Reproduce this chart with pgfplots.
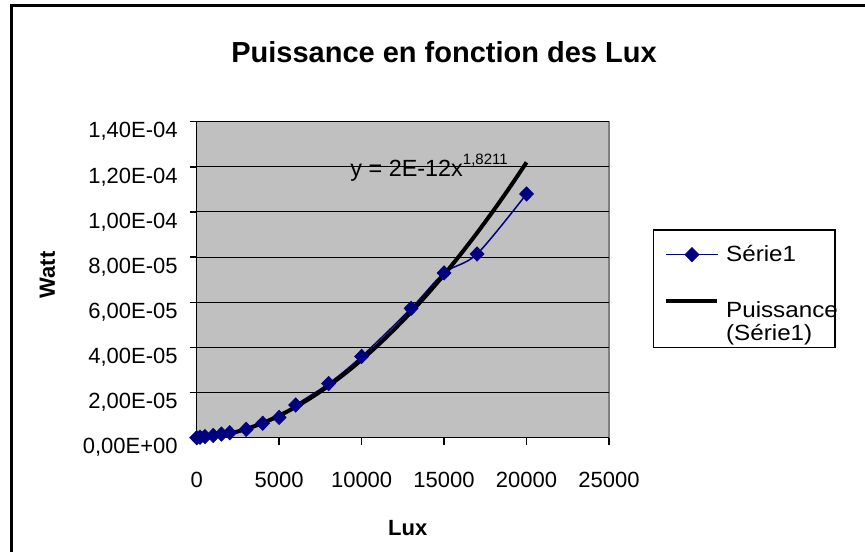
\documentclass[border=0pt]{standalone}
\usepackage{pgfplots}
\pgfplotsset{compat=1.18}
\usepackage{fontspec}
\setmainfont{Liberation Sans}
\definecolor{navy}{RGB}{0,0,128}
\definecolor{plotgray}{RGB}{192,192,192}
\definecolor{framegray}{RGB}{128,128,128}
\newcommand{\fs}{\fontsize{11}{13}\selectfont}
\newcommand{\lx}[1]{\scalebox{1.1}[1]{#1}}
\begin{document}
\begin{tikzpicture}
\useasboundingbox (0,0) rectangle (432.5pt,276pt);
\draw[line width=1.5pt] (5.75pt,0pt) -- (5.75pt,273.25pt) -- (440pt,273.25pt);
\begin{axis}[
  at={(98.35pt,57.15pt)}, anchor=south west,
  scale only axis, width=206.15pt, height=158pt,
  xmin=0, xmax=25000, ymin=0, ymax=1.4e-4,
  clip=false,
  axis background/.style={fill=plotgray, draw=framegray, line width=0.75pt},
  axis x line*=bottom, axis y line*=left,
  axis line style={-, black, line width=0.75pt},
  xtick={0,5000,10000,15000,20000,25000},
  xticklabels={0,5000,10000,15000,20000,25000},
  ytick={0,2e-5,4e-5,6e-5,8e-5,1e-4,1.2e-4,1.4e-4},
  yticklabels={{0,00E+00},{2,00E-05},{4,00E-05},{6,00E-05},{8,00E-05},{1,00E-04},{1,20E-04},{1,40E-04}},
  scaled x ticks=false, scaled y ticks=false,
  tick align=outside, major tick length=3.5pt,
  tick style={black, line width=0.75pt},
  ymajorgrids, grid style={black, line width=0.5pt},
  ticklabel style={font=\fs},
  xticklabel style={yshift=-10pt},
  yticklabel style={xshift=-2.5pt, yshift=-5pt},
  xlabel={\textbf{Lux}}, ylabel={\textbf{Watt}},
  label style={font=\fs},
  xlabel style={at={(axis description cs:0.512,-0.2858)}, anchor=center},
  ylabel style={at={(axis description cs:-0.362,0.515)}, anchor=center},
  title={\textbf{Puissance en fonction des Lux}},
  title style={font=\fontsize{14.5}{17}\selectfont, at={(axis description cs:0.5998,1.183)}, anchor=center},
  legend style={at={(axis description cs:1.106,0.6595)}, anchor=north west,
    draw=black, line width=0.75pt, fill=white, font=\fontsize{11}{10.5}\selectfont,
    inner xsep=0.5pt, inner ysep=6.5pt, row sep=16.5pt,
    nodes={inner xsep=0pt, inner ysep=1pt},
    /tikz/every odd column/.append style={column sep=3.35pt}},
  legend cell align=left,
  legend image code/.code={\path (-5pt,0pt); \draw[mark repeat=2,mark phase=2,#1] plot coordinates {(0pt,0pt) (12.75pt,0pt) (25.5pt,0pt)};},
]
\addplot[navy, line width=0.75pt, smooth, mark=diamond*, mark size=3.6pt,
  mark options={xscale=1.3, solid, fill=navy, draw=navy, line width=0.3pt}]
  table[row sep=\\] {
  x y \\
  0 0 \\
  200 0.2e-6 \\
  500 0.5e-6 \\
  1000 1.0e-6 \\
  1500 1.6e-6 \\
  2000 2.2e-6 \\
  3000 3.7e-6 \\
  4000 6.4e-6 \\
  5000 9.0e-6 \\
  6000 1.45e-5 \\
  8000 2.4e-5 \\
  10000 3.6e-5 \\
  13000 5.73e-5 \\
  15000 7.3e-5 \\
  17000 8.14e-5 \\
  20000 1.08e-4 \\
};
\addlegendentry{\lx{Série1}}
\addplot[black, line width=2pt, smooth,
  legend image code/.code={\path (-5pt,0pt); \path (0pt,-10.5pt); \draw[black, line width=2pt] (0pt,5pt) -- (25.5pt,5pt);}]
  table[row sep=\\] {
  x y \\
  0 0 \\
  500 1.47e-7 \\
  1000 5.21e-7 \\
  2000 1.842e-6 \\
  3000 3.855e-6 \\
  4000 6.51e-6 \\
  5000 9.77e-6 \\
  6000 1.362e-5 \\
  7000 1.803e-5 \\
  8000 2.300e-5 \\
  9000 2.850e-5 \\
  10000 3.453e-5 \\
  11000 4.107e-5 \\
  12000 4.812e-5 \\
  13000 5.567e-5 \\
  14000 6.372e-5 \\
  15000 7.225e-5 \\
  16000 8.126e-5 \\
  17000 9.075e-5 \\
  18000 1.007e-4 \\
  19000 1.111e-4 \\
  20000 1.22e-4 \\
};
\addlegendentry{\makebox[54pt][l]{\begin{tabular}[t]{@{}l@{}}\lx{Puissance}\\\lx{(Série1)}\end{tabular}}}
\node[anchor=base west, inner sep=0pt, font=\fontsize{11.7}{14}\selectfont] at (axis cs:9295,1.1563e-4)
  {y = 2E-12x\raisebox{6.3pt}{\fontsize{7.5}{9}\selectfont 1,8211}};
\end{axis}
\end{tikzpicture}
\end{document}
